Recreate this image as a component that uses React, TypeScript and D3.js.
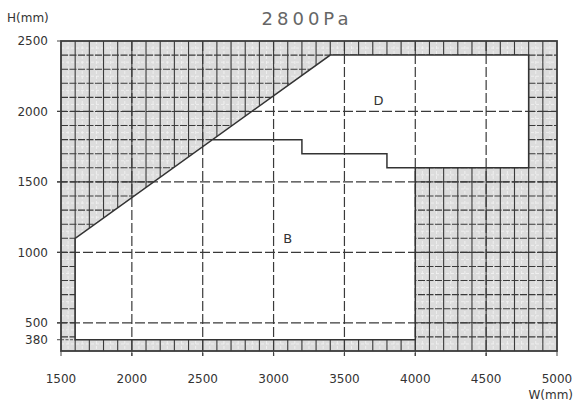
import React from "react";
import * as d3 from "d3";

const xTicks = [1500, 2000, 2500, 3000, 3500, 4000, 4500, 5000];
const yTicks = [380, 500, 1000, 1500, 2000, 2500];
const majorX = [2000, 2500, 3000, 3500, 4000, 4500];
const majorY = [500, 1000, 1500, 2000];

// white (permitted) region outline
const regionW = [1600, 1600, 3400, 4800, 4800, 4000, 4000];
const regionH = [380, 1100, 2400, 2400, 1600, 1600, 380];

// step line separating B and D
const stepW = [2570, 3200, 3200, 3800, 3800, 4000];
const stepH = [1800, 1800, 1700, 1700, 1600, 1600];

const zoneNames = ["B", "D"];
const zoneW = [3100, 3740];
const zoneH = [1100, 2080];

const title = "2800Pa";

export default function App() {
  const W = 575, H = 402;
  const x = d3.scaleLinear().domain([1500, 5000]).range([61, 557]);
  const y = d3.scaleLinear().domain([300, 2500]).range([351, 41]);
  const font = "DejaVu Sans, Verdana, sans-serif";

  const minorX = d3.range(1600, 5000, 100);
  const minorY = d3.range(400, 2500, 100);
  const halfX = d3.range(1550, 5000, 100);
  const halfY = d3.range(350, 2500, 100);

  const line = d3.line<[number, number]>().x(d => x(d[0])).y(d => y(d[1]));
  const regionPts = regionW.map((w, i) => [w, regionH[i]] as [number, number]);
  const stepPts = stepW.map((w, i) => [w, stepH[i]] as [number, number]);

  const [x0, x1] = x.range();
  const [y0, y1] = y.range(); // y0 bottom, y1 top

  return (
    <svg width={W} height={H} style={{ position: "absolute", left: 0, top: 0, background: "#fff" }}>
      <defs>
        <clipPath id="plot">
          <rect x={x0} y={y1} width={x1 - x0} height={y0 - y1} />
        </clipPath>
      </defs>
      <g clipPath="url(#plot)">
        <rect x={x0} y={y1} width={x1 - x0} height={y0 - y1} fill="#dcdcdc" />
        {halfX.map(v => (
          <line key={"hx" + v} x1={x(v)} x2={x(v)} y1={y1} y2={y0} stroke="#f4f4f4" strokeWidth={0.8} strokeDasharray="3,2" />
        ))}
        {halfY.map(v => (
          <line key={"hy" + v} x1={x0} x2={x1} y1={y(v)} y2={y(v)} stroke="#f4f4f4" strokeWidth={0.8} strokeDasharray="3,2" />
        ))}
        {minorX.map(v => (
          <line key={"mx" + v} x1={x(v)} x2={x(v)} y1={y1} y2={y0} stroke="#3a3a3a" strokeWidth={1.1} />
        ))}
        {minorY.map(v => (
          <line key={"my" + v} x1={x0} x2={x1} y1={y(v)} y2={y(v)} stroke="#3a3a3a" strokeWidth={1.1} strokeDasharray="7,1.5" />
        ))}
        <path d={line(regionPts) + "Z"} fill="#fff" stroke="none" />
        <line x1={x0} x2={x(1600)} y1={y(380)} y2={y(380)} stroke="#555" strokeWidth={1} strokeDasharray="3,1.5" />
      </g>
      {majorX.map(v => (
        <line key={"Mx" + v} x1={x(v)} x2={x(v)} y1={y1} y2={y0 + 5} stroke="#3a3a3a" strokeWidth={1.2} strokeDasharray="10,3" />
      ))}
      {majorY.map(v => (
        <line key={"My" + v} x1={x0 - 4} x2={x1} y1={y(v)} y2={y(v)} stroke="#3a3a3a" strokeWidth={1.2} strokeDasharray="10,3" />
      ))}
      <path d={line(regionPts) + "Z"} fill="none" stroke="#333" strokeWidth={1.5} />
      <path d={line(stepPts) || ""} fill="none" stroke="#333" strokeWidth={1.5} />
      <rect x={x0} y={y1} width={x1 - x0} height={y0 - y1} fill="none" stroke="#3a3a3a" strokeWidth={1.8} />
      {/* ticks */}
      {xTicks.map(v => (
        <line key={"tx" + v} x1={x(v)} x2={x(v)} y1={y0} y2={y0 + 5} stroke="#444" strokeWidth={1} />
      ))}
      {yTicks.map(v => (
        <line key={"ty" + v} x1={x0 - 4} x2={x0} y1={y(v)} y2={y(v)} stroke="#444" strokeWidth={1} />
      ))}
      {xTicks.map(v => (
        <text key={"lx" + v} x={x(v)} y={383} textAnchor="middle" fontFamily={font} fontSize={12} fill="#333">{v}</text>
      ))}
      {yTicks.map(v => (
        <text key={"ly" + v} x={48} y={y(v)} dy="0.35em" textAnchor="end" fontFamily={font} fontSize={12} fill="#333">{v}</text>
      ))}
      <text x={7} y={22} fontFamily={font} fontSize={12} fill="#333">H(mm)</text>
      <text x={573} y={399} textAnchor="end" fontFamily={font} fontSize={12} fill="#333">W(mm)</text>
      <text x={307} y={25} textAnchor="middle" fontFamily={font} fontSize={18} letterSpacing={4} fill="#666">{title}</text>
      {zoneNames.map((n, i) => (
        <text key={n} x={x(zoneW[i])} y={y(zoneH[i])} dy="0.35em" textAnchor="middle" fontFamily={font} fontSize={13} fill="#333">{n}</text>
      ))}
    </svg>
  );
}
